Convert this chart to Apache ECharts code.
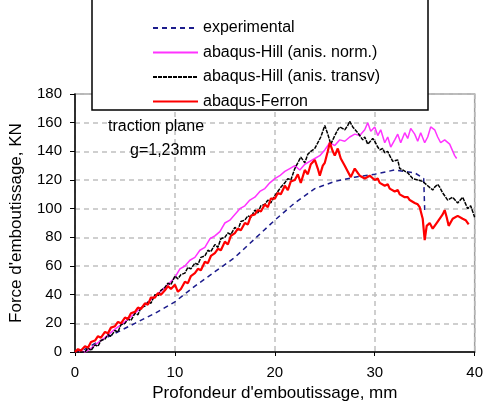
<!DOCTYPE html>
<html>
<head>
<meta charset="utf-8">
<script src="https://cdn.jsdelivr.net/npm/echarts@6/dist/echarts.min.js"></script>
<style>
  html, body { margin: 0; padding: 0; background: #fff; }
  #chart { width: 486px; height: 408px; }
</style>
</head>
<body>
<div id="chart"></div>
<script>
// [depth mm, force kN]
let experimental = [
  [0,0],[1,2],[2,6],[4,13],[6,20],[8,27],[10,35],[12,46],[14,56],[16,66],[18,79],
  [20,92],[22,104],[24,114],[26,119],[28,122],[30,124],[32,127],[34,125],[34.9,121],[35,99]
];

let hillNorm = [
  [0,0],[0.5,1],[1,0],[1.5,2],[2,5],[3,10],[4,16],[5,21],[6,27],[7,33],[8,39],[9,45],
  [10,52],[10.5,58],[11,60],[11.5,64],[12,66],[12.5,71],[13,73],[13.5,79],[14,81],[14.5,84],
  [15,90],[15.5,92],[16,96],[16.5,100],[17,102],[17.5,106],[18,108],[18.5,112],[19,114],
  [19.5,118],[20,121],[20.5,123],[21,126],[21.5,128],[22,130],[22.5,127],[23,131],[23.5,133],
  [24,135],[24.5,137],[25,141],[25.5,146],[26,144],[26.5,148],[27,147],[27.5,150],[28,152],
  [28.5,151],[29,155],[29.3,160],[29.6,154],[30,157],[30.3,151],[30.6,155],[31,146],[31.3,150],
  [31.6,143],[32,148],[32.3,152],[32.6,146],[33,153],[33.3,149],[33.6,156],[34,152],[34.3,147],
  [34.6,153],[35,146],[35.3,150],[35.6,157],[36,155],[36.3,150],[36.6,146],[37,148],[37.5,145],
  [38,137],[38.2,135]
];

let hillTransv = [
  [0,0],[1,0],[1.3,3],[1.6,1],[2,5],[2.3,4],[2.6,8],[3,9],[3.3,12],[3.6,11],[4,15],[4.3,14],
  [4.6,19],[5,20],[5.3,23],[5.6,22],[6,27],[6.3,26],[6.6,31],[7,32],[7.3,35],[7.6,34],[8,40],
  [8.3,39],[8.6,43],[9,45],[9.3,48],[9.6,47],[10,53],[10.3,51],[10.6,54],[11,55],[11.3,59],
  [11.6,58],[12,62],[12.3,61],[12.6,66],[13,67],[13.3,71],[13.6,70],[14,75],[14.3,73],[14.6,79],
  [15,80],[15.3,83],[15.6,82],[16,87],[16.3,85],[16.6,91],[17,92],[17.3,95],[17.6,94],[18,99],
  [18.3,97],[18.6,102],[19,103],[19.3,106],[19.6,104],[20,109],[20.3,112],[20.6,115],[21,118],
  [21.3,121],[21.6,120],[22,128],[22.3,132],[22.6,136],[23,132],[23.3,138],[23.6,140],[24,142],
  [24.3,146],[24.6,150],[25,158],[25.3,152],[25.6,145],[26,151],[26.3,155],[26.5,157],[27,155],
  [27.3,158],[27.5,161],[27.8,157],[28,156],[28.3,153],[28.5,152],[28.8,148],[29,150],[29.3,145],
  [29.5,146],[29.8,149],[30,147],[30.3,143],[30.5,141],[30.8,142],[31,139],[31.3,140],[31.5,137],
  [31.8,133],[32,132],[32.3,134],[32.5,128],[32.8,127],[33,126],[33.3,125],[33.5,124],[33.8,121],
  [34,122],[34.3,120],[34.5,121],[34.8,119],[35,118],[35.3,116],[35.5,117],[35.8,113],[36,115],
  [36.3,117],[36.5,115],[36.8,111],[37,109],[37.3,106],[37.5,105],[37.8,108],[38,107],[38.3,104],
  [38.5,103],[38.8,108],[39,107],[39.3,100],[39.6,102],[40,94]
];

let ferron = [
  [0,0],[0.3,2],[0.6,1],[1,4],[1.3,3],[1.6,7],[2,8],[2.3,11],[2.6,10],[3,14],[3.3,13],[3.6,17],
  [4,18],[4.3,21],[4.6,20],[5,24],[5.3,23],[5.6,27],[6,28],[6.3,31],[6.6,30],[7,34],[7.3,33],
  [7.6,38],[8,38],[8.3,41],[8.6,40],[9,43],[9.3,46],[9.6,44],[10,47],[10.3,42],[10.6,44],[11,49],
  [11.3,48],[11.6,53],[12,55],[12.3,58],[12.6,57],[13,63],[13.3,62],[13.6,67],[14,69],[14.3,72],
  [14.6,71],[15,77],[15.3,75],[15.6,81],[16,83],[16.3,86],[16.6,85],[17,90],[17.3,89],[17.6,95],
  [18,96],[18.3,99],[18.6,98],[19,103],[19.3,101],[19.6,107],[20,107],[20.3,111],[20.6,110],
  [21,116],[21.3,113],[21.6,119],[22,120],[22.3,124],[22.6,118],[23,127],[23.3,124],[23.6,131],
  [24,134],[24.3,128],[24.5,123],[24.8,130],[25,132],[25.3,140],[25.5,146],[25.8,140],[26,137],
  [26.3,142],[26.6,135],[27,130],[27.3,126],[27.6,122],[28,128],[28.3,125],[28.5,123],[29,121],
  [29.5,123],[30,120],[30.3,121],[30.5,118],[31,116],[31.3,117],[31.5,114],[32,112],[32.3,113],
  [32.5,110],[33,108],[33.3,108],[33.5,106],[34,104],[34.3,103],[34.5,101],[34.8,93],[35,78],
  [35.2,88],[35.5,90],[35.8,86],[36,88],[36.3,91],[36.5,92],[36.8,96],[37,99],[37.2,94],[37.4,88],
  [37.8,93],[38.3,95],[38.8,93],[39.1,92],[39.4,89]
];

let seriesNames = ['experimental', 'abaqus-Hill (anis. norm.)', 'abaqus-Hill (anis. transv)', 'abaqus-Ferron'];
let xTicks = [0, 10, 20, 30, 40];
let yTicks = [0, 20, 40, 60, 80, 100, 120, 140, 160, 180];

let font = 'Liberation Sans, Arial, sans-serif';
let myChart = echarts.init(document.getElementById('chart'));

let option = {
  animation: false,
  grid: {
    left: 75, right: 8, top: 94, bottom: 56,
    show: true, borderColor: '#a0a0a0', borderWidth: 1.5
  },
  xAxis: {
    type: 'value', min: xTicks[0], max: xTicks[xTicks.length - 1], interval: 10,
    name: "Profondeur d'emboutissage, mm", nameLocation: 'middle', nameGap: 28,
    nameTextStyle: { fontFamily: font, fontSize: 17, color: '#000' },
    axisLine: { lineStyle: { color: '#000', width: 1.5 } },
    axisTick: { show: true, length: 4, lineStyle: { color: '#000' } },
    axisLabel: { fontFamily: font, fontSize: 15, color: '#000', margin: 13 },
    splitLine: { show: true, lineStyle: { color: '#c0c0c0', type: [5, 4], width: 1.5 } }
  },
  yAxis: {
    type: 'value', min: yTicks[0], max: yTicks[yTicks.length - 1], interval: 20,
    name: "Force d'emboutissage, KN", nameLocation: 'middle', nameGap: 50,
    nameTextStyle: { fontFamily: font, fontSize: 17, color: '#000' },
    axisLine: { show: true, lineStyle: { color: '#000', width: 1.5 } },
    axisTick: { show: true, length: 5, lineStyle: { color: '#000' } },
    axisLabel: { fontFamily: font, fontSize: 15, color: '#000', margin: 13 },
    splitLine: { show: true, lineStyle: { color: '#c0c0c0', type: [5, 4], width: 1.5 } }
  },
  legend: {
    orient: 'vertical', left: 147, top: 15,
    itemWidth: 45, itemHeight: 14, itemGap: 8.5,
    itemStyle: { opacity: 0 },
    textStyle: { fontFamily: font, fontSize: 16, color: '#000', lineHeight: 16 },
    data: seriesNames
  },
  graphic: [
    {
      type: 'rect', z: 3,
      shape: { x: 92, y: -3, width: 336, height: 113 },
      style: { fill: '#fff', stroke: '#000', lineWidth: 1.5 }
    },
    {
      type: 'text', z: 3, left: 108, top: 119,
      style: { text: 'traction plane', font: '16px ' + font, fill: '#000' }
    },
    {
      type: 'text', z: 3, left: 130, top: 143,
      style: { text: 'g=1,23mm', font: '16px ' + font, fill: '#000' }
    }
  ],
  series: [
    {
      name: seriesNames[0], type: 'line', data: experimental, symbol: 'none',
      lineStyle: { color: '#1c1c8c', width: 1.5, type: [5, 4] }, itemStyle: { color: '#1c1c8c' }
    },
    {
      name: seriesNames[1], type: 'line', data: hillNorm, symbol: 'none',
      lineStyle: { color: '#ff33ff', width: 1.5 }, itemStyle: { color: '#ff33ff' }
    },
    {
      name: seriesNames[2], type: 'line', data: hillTransv, symbol: 'none',
      lineStyle: { color: '#000', width: 1.5, type: [4, 1] }, itemStyle: { color: '#000' }
    },
    {
      name: seriesNames[3], type: 'line', data: ferron, symbol: 'none',
      lineStyle: { color: '#ff0000', width: 2.2 }, itemStyle: { color: '#ff0000' }
    }
  ]
};

option && myChart.setOption(option, false);
</script>
</body>
</html>
